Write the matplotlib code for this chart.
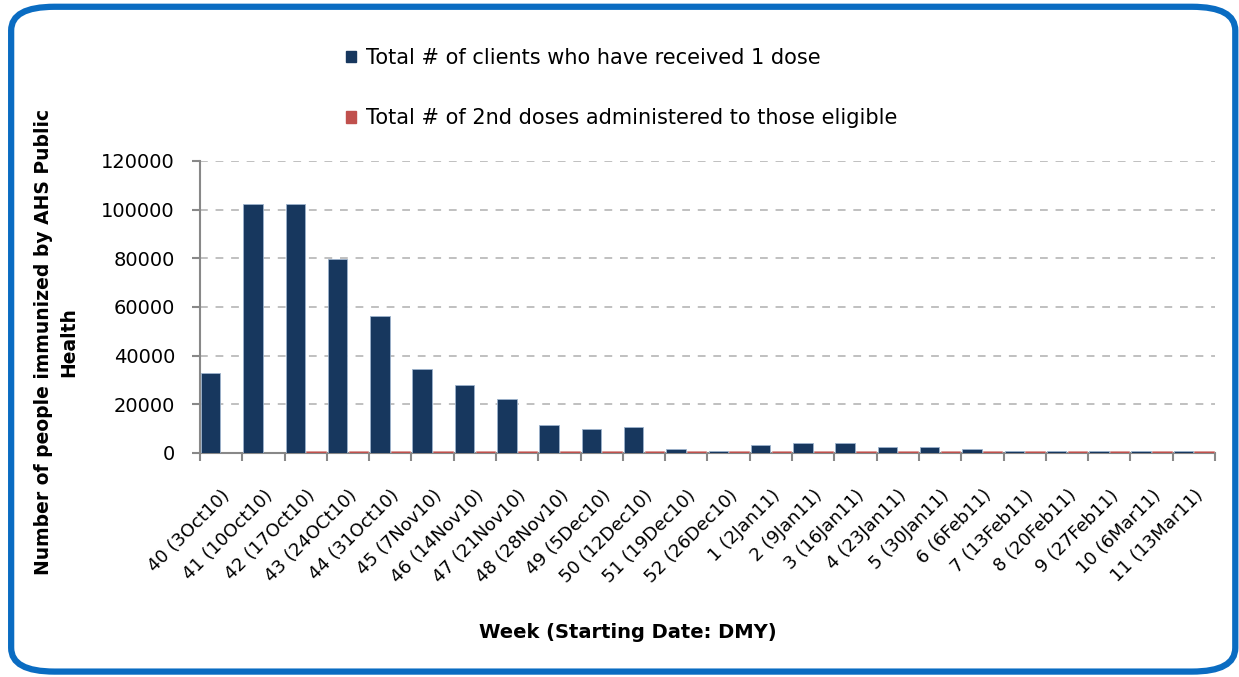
import matplotlib
matplotlib.use("Agg")
import matplotlib.pyplot as plt
from matplotlib.patches import FancyBboxPatch, Patch
import numpy as np

weeks = ["40 (3Oct10)", "41 (10Oct10)", "42 (17Oct10)", "43 (24OCt10)",
         "44 (31Oct10)", "45 (7Nov10)", "46 (14Nov10)", "47 (21Nov10)",
         "48 (28Nov10)", "49 (5Dec10)", "50 (12Dec10)", "51 (19Dec10)",
         "52 (26Dec10)", "1 (2Jan11)", "2 (9Jan11)", "3 (16Jan11)",
         "4 (23Jan11)", "5 (30Jan11)", "6 (6Feb11)", "7 (13Feb11)",
         "8 (20Feb11)", "9 (27Feb11)", "10 (6Mar11)", "11 (13Mar11)"]
first_dose = [32800, 102300, 102300, 79600, 56300, 34500, 28000, 22200,
              11500, 9900, 10700, 1800, 1000, 3300, 4100, 4100,
              2500, 2500, 1800, 1000, 1000, 1000, 1000, 1000]
second_dose = [0, 0, 1000, 1000, 1000, 1000, 1000, 1000,
               1000, 1000, 1000, 1000, 1000, 1000, 1000, 1000,
               1000, 1000, 1000, 1000, 1000, 1000, 1000, 1000]

label1 = "Total # of clients who have received 1 dose"
label2 = "Total # of 2nd doses administered to those eligible"

blue = "#17375E"
red = "#C0504D"

fig = plt.figure(figsize=(12.39, 6.77), dpi=100)
fig.patches.append(FancyBboxPatch((0.009, 0.008), 0.988, 0.982,
                                  boxstyle="round,pad=0,rounding_size=0.035",
                                  transform=fig.transFigure, fill=False,
                                  edgecolor="#0A6CC2", linewidth=4.5))

ax = fig.add_axes([0.1614, 0.3309, 0.8192, 0.4313])
x = np.arange(len(weeks))
w = 0.46
ax.bar(x - 0.245, first_dose, w, color=blue, edgecolor="#9DB3CC", linewidth=0.6,
       zorder=3)
ax.bar(x + 0.245, second_dose, w, color=red, edgecolor="#D99694", linewidth=0.4,
       zorder=3)

ax.set_xlim(-0.5, len(weeks) - 0.5)
ax.set_ylim(0, 120000)
ax.set_yticks(range(0, 120001, 20000))
ax.yaxis.grid(True, linestyle=(0, (4, 4)), color="#C0C0C0", linewidth=1.4)
ax.set_axisbelow(True)

ax.set_xticks(x)
ax.set_xticklabels(weeks, rotation=45, ha="right", rotation_mode="anchor",
                   fontsize=13)
ax.set_xticks(np.arange(-0.5, len(weeks)), minor=True)
ax.tick_params(axis="x", which="major", length=0, pad=24)
ax.tick_params(axis="x", which="minor", length=6, color="#888888", width=1.5)
ax.tick_params(axis="y", labelsize=14, length=6, color="#888888", width=1.5,
               pad=12)

for s in ["top", "right"]:
    ax.spines[s].set_visible(False)
for s in ["left", "bottom"]:
    ax.spines[s].set_color("#888888")
    ax.spines[s].set_linewidth(1.5)
    ax.spines[s].set_zorder(2)

fig.text(0.045, 1 - 342 / 677, "Number of people immunized by AHS Public\nHealth",
         rotation=90, ha="center", va="center", fontsize=13.5,
         fontweight="bold", linespacing=1.4)
fig.text(0.507, 1 - 632 / 677, "Week (Starting Date: DMY)", ha="center",
         va="center", fontsize=14, fontweight="bold")

handles = [Patch(color=blue, label=label1), Patch(color=red, label=label2)]
fig.legend(handles=handles, loc="upper left", bbox_to_anchor=(0.264, 0.957),
           frameon=False, fontsize=15, handlelength=0.5, handleheight=0.5,
           handletextpad=0.45, labelspacing=1.95)

fig.savefig("out.png", dpi=100)
